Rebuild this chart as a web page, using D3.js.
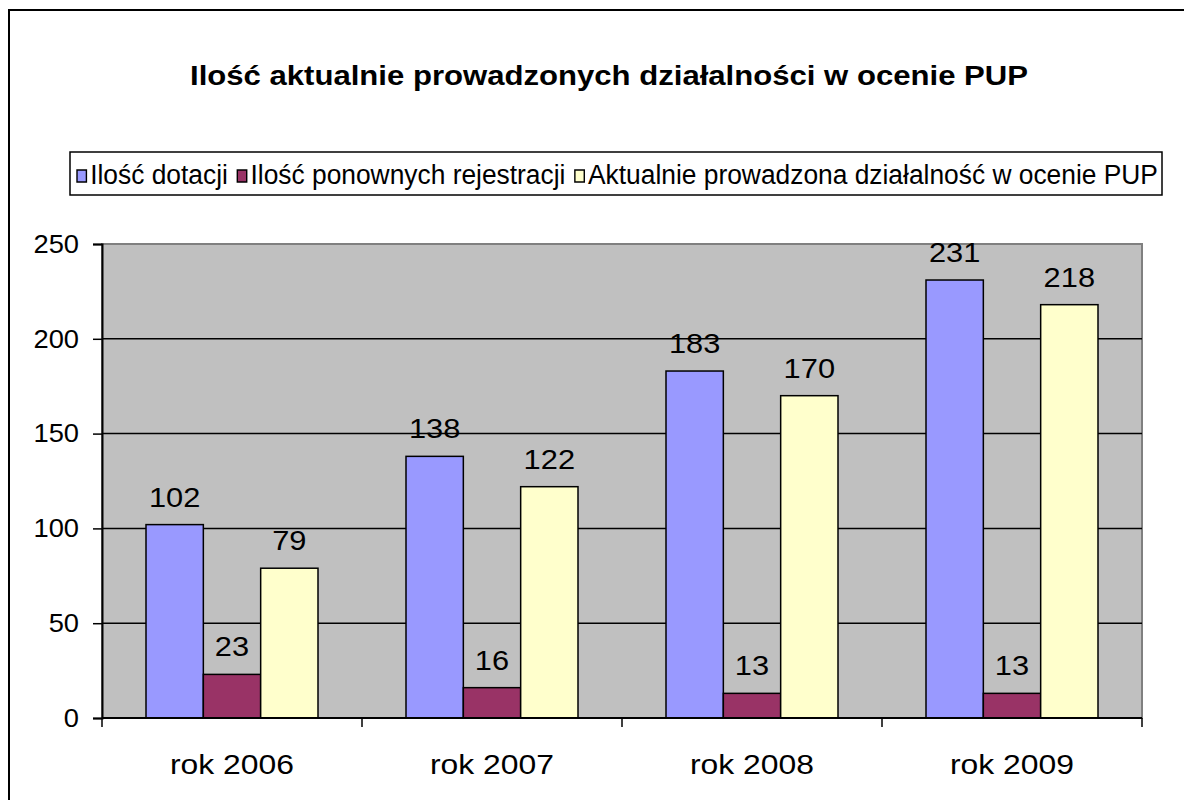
<!DOCTYPE html>
<html lang="pl">
  <head>
    <meta charset="UTF-8" />
    <title>Ilość aktualnie prowadzonych działalności</title>
    <style>
      body { margin: 0; background: #fff; }
      text { font-family: Arial, "Liberation Sans", sans-serif; fill: #000; }
    </style>
  </head>
  <body>
    <div id="wrapper"></div>
    <script src="https://d3js.org/d3.v7.min.js"></script>
    <script>
      // data
      const years = ["rok 2006", "rok 2007", "rok 2008", "rok 2009"];
      const seriesNames = ["Ilość dotacji", "Ilość ponownych rejestracji", "Aktualnie prowadzona działalność w ocenie PUP"];
      const dotacje = [102, 138, 183, 231];
      const rejestracje = [23, 16, 13, 13];
      const prowadzone = [79, 122, 170, 218];
      const yTicks = [0, 50, 100, 150, 200, 250];
      const colors = ["#9999FF", "#993366", "#FFFFCC"];

      const W = 1184, H = 800;
      const plot = { left: 102, top: 244, right: 1142, bottom: 718 };

      // the original text is drawn a bit wider than Arial, stretch glyphs to match
      function stretch(sel, k) {
        sel.each(function() {
          var len = this.getComputedTextLength();
          d3.select(this)
              .attr("textLength", len * k)
              .attr("lengthAdjust", "spacingAndGlyphs");
        });
      }

      const svg = d3.select("#wrapper").append("svg")
          .attr("width", W)
          .attr("height", H);

      // outer chart frame
      svg.append("rect")
          .attr("x", 9).attr("y", 10)
          .attr("width", W + 20).attr("height", H + 20)
          .attr("fill", "#fff")
          .attr("stroke", "#000")
          .attr("stroke-width", 2);

      // title
      var title = svg.append("text")
          .attr("x", 609).attr("y", 85)
          .attr("text-anchor", "middle")
          .attr("font-size", 27)
          .attr("font-weight", "bold")
          .text("Ilość aktualnie prowadzonych działalności w ocenie PUP");
      stretch(title, 838 / title.node().getComputedTextLength());

      var x0 = d3.scaleBand().domain(years).range([plot.left, plot.right]);
      var x1 = d3.scaleBand().domain(d3.range(3)).range([0, 172]);
      var y = d3.scaleLinear().domain([0, 250]).range([plot.bottom, plot.top]);

      // plot area
      svg.append("rect")
          .attr("x", plot.left).attr("y", plot.top)
          .attr("width", plot.right - plot.left)
          .attr("height", plot.bottom - plot.top)
          .attr("fill", "#C0C0C0")
          .attr("stroke", "#808080")
          .attr("stroke-width", 2);

      // gridlines
      svg.append("g")
        .selectAll("line")
        .data(yTicks.filter(function(t) { return t > 0 && t < 250; }))
        .join("line")
          .attr("x1", plot.left).attr("x2", plot.right)
          .attr("y1", function(d) { return y(d); })
          .attr("y2", function(d) { return y(d); })
          .attr("stroke", "#000")
          .attr("stroke-width", 1.5);

      // bars
      var rows = years.map(function(yr, i) {
        return { year: yr, values: [dotacje[i], rejestracje[i], prowadzone[i]] };
      });
      var groupOffset = (x0.bandwidth() - 172) / 2;

      var groups = svg.append("g")
        .selectAll("g")
        .data(rows)
        .join("g")
          .attr("transform", function(d) { return "translate(" + (x0(d.year) + groupOffset) + ",0)"; });

      groups.selectAll("rect")
        .data(function(d) { return d.values; })
        .join("rect")
          .attr("x", function(d, i) { return x1(i); })
          .attr("y", function(d) { return y(d); })
          .attr("width", x1.bandwidth())
          .attr("height", function(d) { return y(0) - y(d); })
          .attr("fill", function(d, i) { return colors[i]; })
          .attr("stroke", "#000")
          .attr("stroke-width", 1.5);

      var labels = groups.selectAll("text")
        .data(function(d) { return d.values; })
        .join("text")
          .attr("x", function(d, i) { return x1(i) + x1.bandwidth() / 2; })
          .attr("y", function(d) { return y(d) - 18; })
          .attr("text-anchor", "middle")
          .attr("font-size", 28)
          .text(function(d) { return d; });
      stretch(labels, 1.1);

      // y axis
      var yAxis = svg.append("g")
          .attr("transform", "translate(" + plot.left + ",0)")
          .call(d3.axisLeft(y).tickValues(yTicks).tickSize(9).tickPadding(14));
      yAxis.select(".domain").attr("stroke", "#000").attr("stroke-width", 2);
      yAxis.selectAll(".tick line").attr("stroke", "#000").attr("stroke-width", 1.5);
      yAxis.selectAll(".tick text")
          .attr("font-size", 26)
          .attr("font-family", "Arial, 'Liberation Sans', sans-serif")
          .attr("fill", "#000");
      stretch(yAxis.selectAll(".tick text"), 1.05);

      // x axis with ticks at band edges
      svg.append("line")
          .attr("x1", plot.left).attr("x2", plot.right)
          .attr("y1", y(0)).attr("y2", y(0))
          .attr("stroke", "#000").attr("stroke-width", 2);
      var edges = years.map(function(d) { return x0(d); }).concat([plot.right]);
      svg.append("g")
        .selectAll("line")
        .data(edges)
        .join("line")
          .attr("x1", function(d) { return d; }).attr("x2", function(d) { return d; })
          .attr("y1", y(0)).attr("y2", y(0) + 9)
          .attr("stroke", "#000").attr("stroke-width", 1.5);
      var cats = svg.append("g")
        .selectAll("text")
        .data(years)
        .join("text")
          .attr("x", function(d) { return x0(d) + x0.bandwidth() / 2; })
          .attr("y", 774)
          .attr("text-anchor", "middle")
          .attr("font-size", 27)
          .text(function(d) { return d; });
      stretch(cats, 124 / cats.node().getComputedTextLength());

      // legend
      var legend = { x: 70, y: 152, w: 1092, h: 43 };
      svg.append("rect")
          .attr("x", legend.x).attr("y", legend.y)
          .attr("width", legend.w).attr("height", legend.h)
          .attr("fill", "#fff")
          .attr("stroke", "#000")
          .attr("stroke-width", 1.5);

      var lg = svg.append("g");
      var items = lg.selectAll("g")
        .data(seriesNames)
        .join("g");
      items.append("rect")
          .attr("width", 10).attr("height", 12)
          .attr("y", -14)
          .attr("fill", function(d, i) { return colors[i]; })
          .attr("stroke", "#000")
          .attr("stroke-width", 1.5);
      items.append("text")
          .attr("x", 14)
          .attr("font-size", 28)
          .text(function(d) { return d; });

      // lay the items out in a row, squeezed to fit the box like the original
      var pos = 0;
      items.each(function() {
        var tw = d3.select(this).select("text").node().getComputedTextLength();
        d3.select(this).attr("data-x", pos);
        pos += 14 + tw + 10;
      });
      var natural = pos - 10;
      var target = 1158 - 77;
      var sx = target / natural;
      items.attr("transform", function() { return "translate(" + (+this.getAttribute("data-x")) + ",0)"; });
      lg.attr("transform", "translate(77," + 184 + ") scale(" + sx + ",1)");
    </script>
  </body>
</html>
